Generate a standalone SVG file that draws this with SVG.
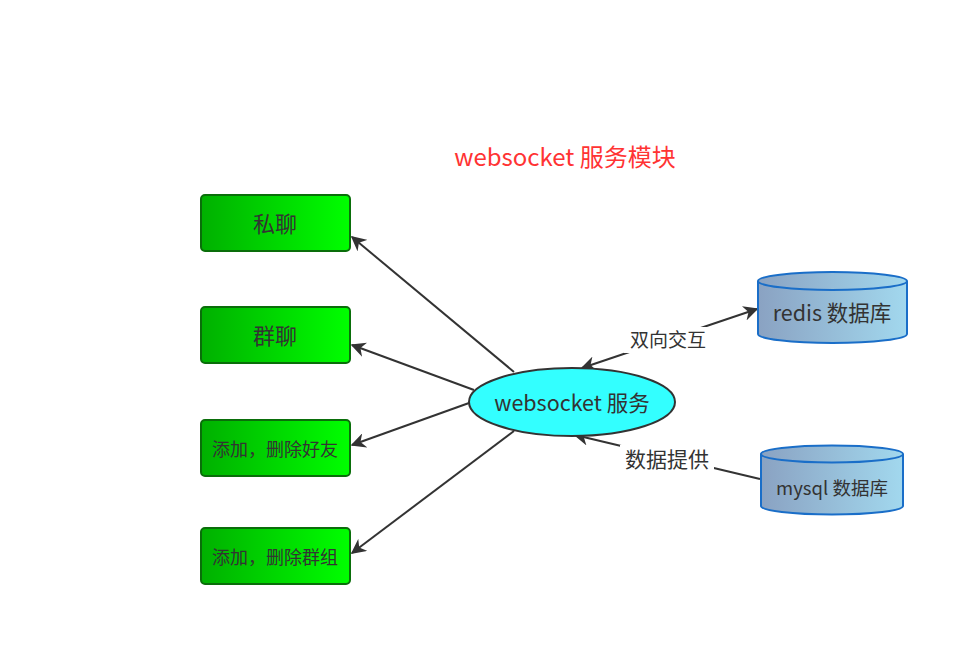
<svg xmlns="http://www.w3.org/2000/svg" width="968" height="646" viewBox="0 0 968 646">
<defs>
<linearGradient id="gG" x1="0" y1="0" x2="1" y2="0"><stop offset="0" stop-color="#00b000"/><stop offset="1" stop-color="#00ff00"/></linearGradient>
<linearGradient id="gB" x1="0" y1="0" x2="1" y2="0"><stop offset="0" stop-color="#8aa2c2"/><stop offset="1" stop-color="#a2d8ee"/></linearGradient>
<marker id="ahL" viewBox="0 0 10 10" refX="9" refY="5" markerWidth="15" markerHeight="15" markerUnits="userSpaceOnUse" orient="auto-start-reverse"><path d="M0,0 L10,5 L0,10 L3,5 Z" fill="#333"/></marker>
</defs>
<style>
text{font-family:"Noto Sans CJK SC","Microsoft YaHei",sans-serif;fill:#333;text-anchor:middle}
.box{fill:url(#gG);stroke:#0a6e0a;stroke-width:2}
.cyl{fill:url(#gB);stroke:#1a6ec8;stroke-width:2}
.ln{stroke:#333;stroke-width:2;fill:none}
</style>
<rect width="968" height="646" fill="#fff"/>
<text x="565" y="166" font-size="24" style="fill:#ff3333">websocket 服务模块</text>
<g id="connectors">
<line class="ln" x1="514" y1="372" x2="352" y2="237" marker-end="url(#ahL)"/>
<line class="ln" x1="474" y1="390" x2="352" y2="345" marker-end="url(#ahL)"/>
<line class="ln" x1="469" y1="403" x2="352" y2="445" marker-end="url(#ahL)"/>
<line class="ln" x1="514" y1="431" x2="352" y2="553" marker-end="url(#ahL)"/>
<line class="ln" x1="582" y1="368" x2="757" y2="309" marker-start="url(#ahL)" marker-end="url(#ahL)"/>
<rect x="624" y="327" width="88" height="26" fill="#fff"/>
<text x="668" y="347" font-size="19">双向交互</text>
<line class="ln" x1="760" y1="479" x2="575" y2="435" marker-end="url(#ahL)"/>
<rect x="620" y="445" width="94" height="28" fill="#fff"/>
<text x="667" y="467" font-size="21">数据提供</text>
</g>
<g id="n1"><rect class="box" x="201" y="195" width="149" height="56" rx="4"/><text x="275" y="232" font-size="22">私聊</text></g>
<g id="n2"><rect class="box" x="201" y="307" width="149" height="56" rx="4"/><text x="275" y="344" font-size="22">群聊</text></g>
<g id="n3"><rect class="box" x="201" y="420" width="149" height="56" rx="4"/><text x="275" y="456" font-size="18">添加，删除好友</text></g>
<g id="n4"><rect class="box" x="201" y="528" width="149" height="56" rx="4"/><text x="275" y="564" font-size="18">添加，删除群组</text></g>
<g id="ws"><ellipse cx="572" cy="402" rx="103" ry="34" fill="#33ffff" stroke="#333" stroke-width="2"/><text x="572" y="411" font-size="21.5">websocket 服务</text></g>
<g id="redis">
<path class="cyl" d="M758,281 L758,334 A74.5,9 0 0 0 907,334 L907,281 A74.5,9 0 0 0 758,281 Z"/>
<path d="M758,281 A74.5,9 0 0 0 907,281" fill="none" stroke="#1a6ec8" stroke-width="2"/>
<text x="832" y="321" font-size="21.5">redis 数据库</text>
</g>
<g id="mysql">
<path class="cyl" d="M761,454 L761,506 A71,8.5 0 0 0 903,506 L903,454 A71,8.5 0 0 0 761,454 Z"/>
<path d="M761,454 A71,8.5 0 0 0 903,454" fill="none" stroke="#1a6ec8" stroke-width="2"/>
<text x="832" y="495" font-size="18.5">mysql 数据库</text>
</g>
</svg>
